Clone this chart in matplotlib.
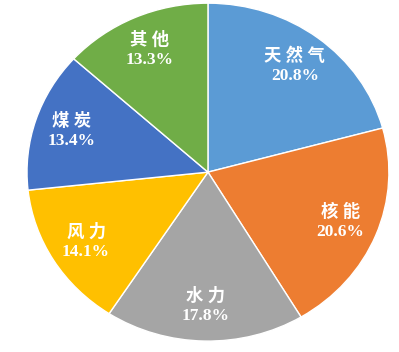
import matplotlib.pyplot as plt

# data
names = ["天然气", "核能", "水力", "风力", "煤炭", "其他"]
shares = [20.8, 20.6, 17.8, 14.1, 13.4, 13.3]
colors = ["#5B9BD5", "#ED7D31", "#A5A5A5", "#FFC000", "#4472C4", "#70AD47"]

fig = plt.figure(figsize=(3.99, 3.52), dpi=100)
ax = fig.add_axes([0.0677, 0.031, 0.907, 0.96])

labels = [" ".join(n) + "\n" + "%.1f%%" % s for n, s in zip(names, shares)]
wedges, texts = ax.pie(shares, colors=colors, startangle=90, counterclock=False,
                       labels=labels, labeldistance=0.79,
                       wedgeprops=dict(edgecolor="white", linewidth=1.0),
                       textprops=dict(color="white", fontsize=12.5, fontweight="bold",
                                      family=["Liberation Serif", "Noto Sans CJK SC"],
                                      linespacing=1.25))
for t in texts:
    t.set_horizontalalignment("center")
    t.set_verticalalignment("center")

ax.set_aspect("auto")
ax.set_xlim(-1, 1)
ax.set_ylim(-1, 1)

fig.savefig("out.png", dpi=100)
